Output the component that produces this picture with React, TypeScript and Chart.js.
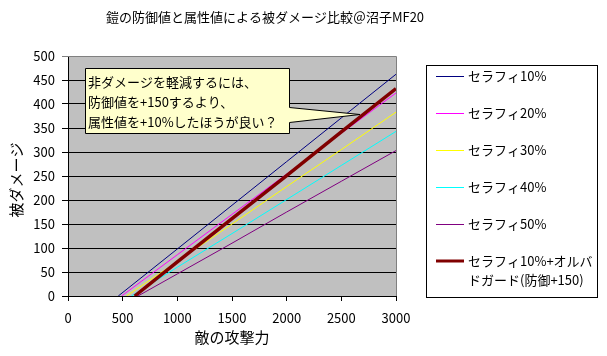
import { useEffect, useRef } from "react";
import { Chart, registerables } from "chart.js";
Chart.register(...registerables);

const titleText = "鎧の防御値と属性値による被ダメージ比較＠沼子MF20";
const xTitle = "敵の攻撃力";
const yTitle = "被ダメージ";
const seriesNames = [
  "セラフィ10%",
  "セラフィ20%",
  "セラフィ30%",
  "セラフィ40%",
  "セラフィ50%",
  "セラフィ10%+オルバドガード(防御+150)",
];
const seriesColors = ["#000080", "#ff00ff", "#ffff00", "#00ffff", "#800080", "#800000"];
const seriesWidths = [1, 1, 1, 1, 1, 3.5];

const attack = [1000, 1500, 2000, 2500, 3000];
// attack value at which each line leaves 0 damage
const zeroAt = [460, 490, 535, 580, 640, 610];
const sera10 = [98, 189, 280, 371, 462];
const sera20 = [86, 170, 254, 339, 423];
const sera30 = [72, 150, 228, 305, 383];
const sera40 = [60, 130, 201, 272, 343];
const sera50 = [46, 110, 175, 239, 303];
const sera10Guard = [71, 161, 251, 342, 432];
const seriesValues = [sera10, sera20, sera30, sera40, sera50, sera10Guard];

const xMin = 0, xMax = 3000, xStep = 500;
const yMin = 0, yMax = 500, yStep = 50;

const calloutLines = [
  "非ダメージを軽減するには、",
  "防御値を+150するより、",
  "属性値を+10%したほうが良い？",
];

const FONT = '"Noto Sans CJK JP", "Noto Sans", sans-serif';

const decor = {
  id: "decor",
  beforeDraw(chart: any) {
    const { ctx, chartArea: a } = chart;
    ctx.save();
    ctx.fillStyle = "#ffffff";
    ctx.fillRect(0, 0, chart.width, chart.height);
    ctx.fillStyle = "#c0c0c0";
    ctx.fillRect(a.left, a.top, a.right - a.left, a.bottom - a.top);
    ctx.restore();
  },
  beforeDatasetsDraw(chart: any) {
    const { ctx, chartArea: a } = chart;
    ctx.save();
    ctx.strokeStyle = "#808080";
    ctx.lineWidth = 1;
    ctx.beginPath();
    ctx.moveTo(a.left, a.top + 0.5);
    ctx.lineTo(a.right + 0.5, a.top + 0.5);
    ctx.lineTo(a.right + 0.5, a.bottom);
    ctx.stroke();
    ctx.restore();
  },
  afterDraw(chart: any) {
    const { ctx, chartArea: a } = chart;
    ctx.save();
    ctx.fillStyle = "#000";
    ctx.textBaseline = "middle";
    // title
    ctx.font = `13px ${FONT}`;
    ctx.textAlign = "center";
    ctx.fillText(titleText, 265, 17);
    // axis titles
    ctx.font = `15px ${FONT}`;
    ctx.fillText(xTitle, (a.left + a.right) / 2, 337);
    ctx.save();
    ctx.translate(16, 180);
    ctx.rotate(-Math.PI / 2);
    ctx.fillText(yTitle, 0, 0);
    ctx.restore();

    // legend
    const lx = 426.5, ly = 65.5, lw = 171, lh = 232;
    ctx.fillStyle = "#fff";
    ctx.fillRect(lx, ly, lw, lh);
    ctx.strokeStyle = "#000";
    ctx.lineWidth = 1;
    ctx.strokeRect(lx, ly, lw, lh);
    ctx.font = `13px ${FONT}`;
    ctx.textAlign = "left";
    const rows = [76, 113, 150, 187, 224, 261];
    seriesNames.forEach((name, i) => {
      const y = rows[i];
      const thick = seriesWidths[i] > 1;
      ctx.strokeStyle = seriesColors[i];
      ctx.lineWidth = thick ? 3 : 1;
      ctx.beginPath();
      ctx.moveTo(436, thick ? y : y + 0.5);
      ctx.lineTo(464, thick ? y : y + 0.5);
      ctx.stroke();
      // wrap text to the legend width
      const lines: string[] = [];
      let cur = "";
      for (const ch of name) {
        if (ctx.measureText(cur + ch).width > 126 && cur) {
          lines.push(cur);
          cur = ch;
        } else cur += ch;
      }
      lines.push(cur);
      ctx.fillStyle = "#000";
      lines.forEach((t, j) => ctx.fillText(t, 468, y + j * 19));
    });

    // callout
    const bx = 85.5, by = 68.5, bx2 = 289.5, by2 = 133.5;
    ctx.beginPath();
    ctx.moveTo(bx, by);
    ctx.lineTo(bx2, by);
    ctx.lineTo(bx2, 107.5);
    ctx.lineTo(360, 114.5);
    ctx.lineTo(bx2, 122.5);
    ctx.lineTo(bx2, by2);
    ctx.lineTo(bx, by2);
    ctx.closePath();
    ctx.fillStyle = "#ffffcc";
    ctx.fill();
    ctx.strokeStyle = "#000";
    ctx.lineWidth = 1;
    ctx.stroke();
    ctx.fillStyle = "#000";
    ctx.font = `13px ${FONT}`;
    calloutLines.forEach((t, i) => ctx.fillText(t, 88, 82 + i * 20));
    ctx.restore();
  },
};

export default function App() {
  const ref = useRef<HTMLCanvasElement | null>(null);
  useEffect(() => {
    document.body.style.margin = "0";
    const canvas = ref.current!;
    const datasets = seriesNames.map((name, i) => ({
      label: name,
      data: [
        { x: zeroAt[i], y: 0 },
        ...attack.map((x, k) => ({ x, y: seriesValues[i][k] })),
      ],
      borderColor: seriesColors[i],
      backgroundColor: seriesColors[i],
      borderWidth: seriesWidths[i],
      pointRadius: 0,
      tension: 0,
      fill: false,
      order: i === 5 ? -1 : 5 - i,
    }));
    const chart = new Chart(canvas, {
      type: "line",
      data: { datasets },
      plugins: [decor],
      options: {
        responsive: false,
        animation: false,
        devicePixelRatio: 1,
        layout: { padding: { top: 56, right: 211, left: 0, bottom: 0 } },
        plugins: {
          legend: { display: false },
          title: { display: false },
          tooltip: { enabled: false },
        },
        scales: {
          x: {
            type: "linear",
            min: xMin,
            max: xMax,
            ticks: {
              stepSize: xStep,
              color: "#000",
              font: { family: FONT, size: 13 },
              padding: 9,
              maxRotation: 0,
              callback: (v: any) => String(v),
            },
            grid: {
              drawOnChartArea: false,
              drawTicks: true,
              tickLength: 5,
              color: "#000",
            },
            border: { color: "#000", width: 1 },
            afterFit: (s: any) => {
              s.height = 60;
            },
          },
          y: {
            type: "linear",
            min: yMin,
            max: yMax,
            ticks: {
              stepSize: yStep,
              color: "#000",
              font: { family: FONT, size: 13 },
              padding: 7,
              callback: (v: any) => String(v),
            },
            grid: {
              tickLength: 6,
              color: (c: any) => (c.tick && c.tick.value === yMax ? "#808080" : "#000"),
            },
            border: { color: "#000", width: 1 },
            afterFit: (s: any) => {
              s.width = 68;
            },
          },
        },
      },
    });
    return () => chart.destroy();
  }, []);
  return <canvas ref={ref} width={607} height={356} style={{ display: "block" }} />;
}
